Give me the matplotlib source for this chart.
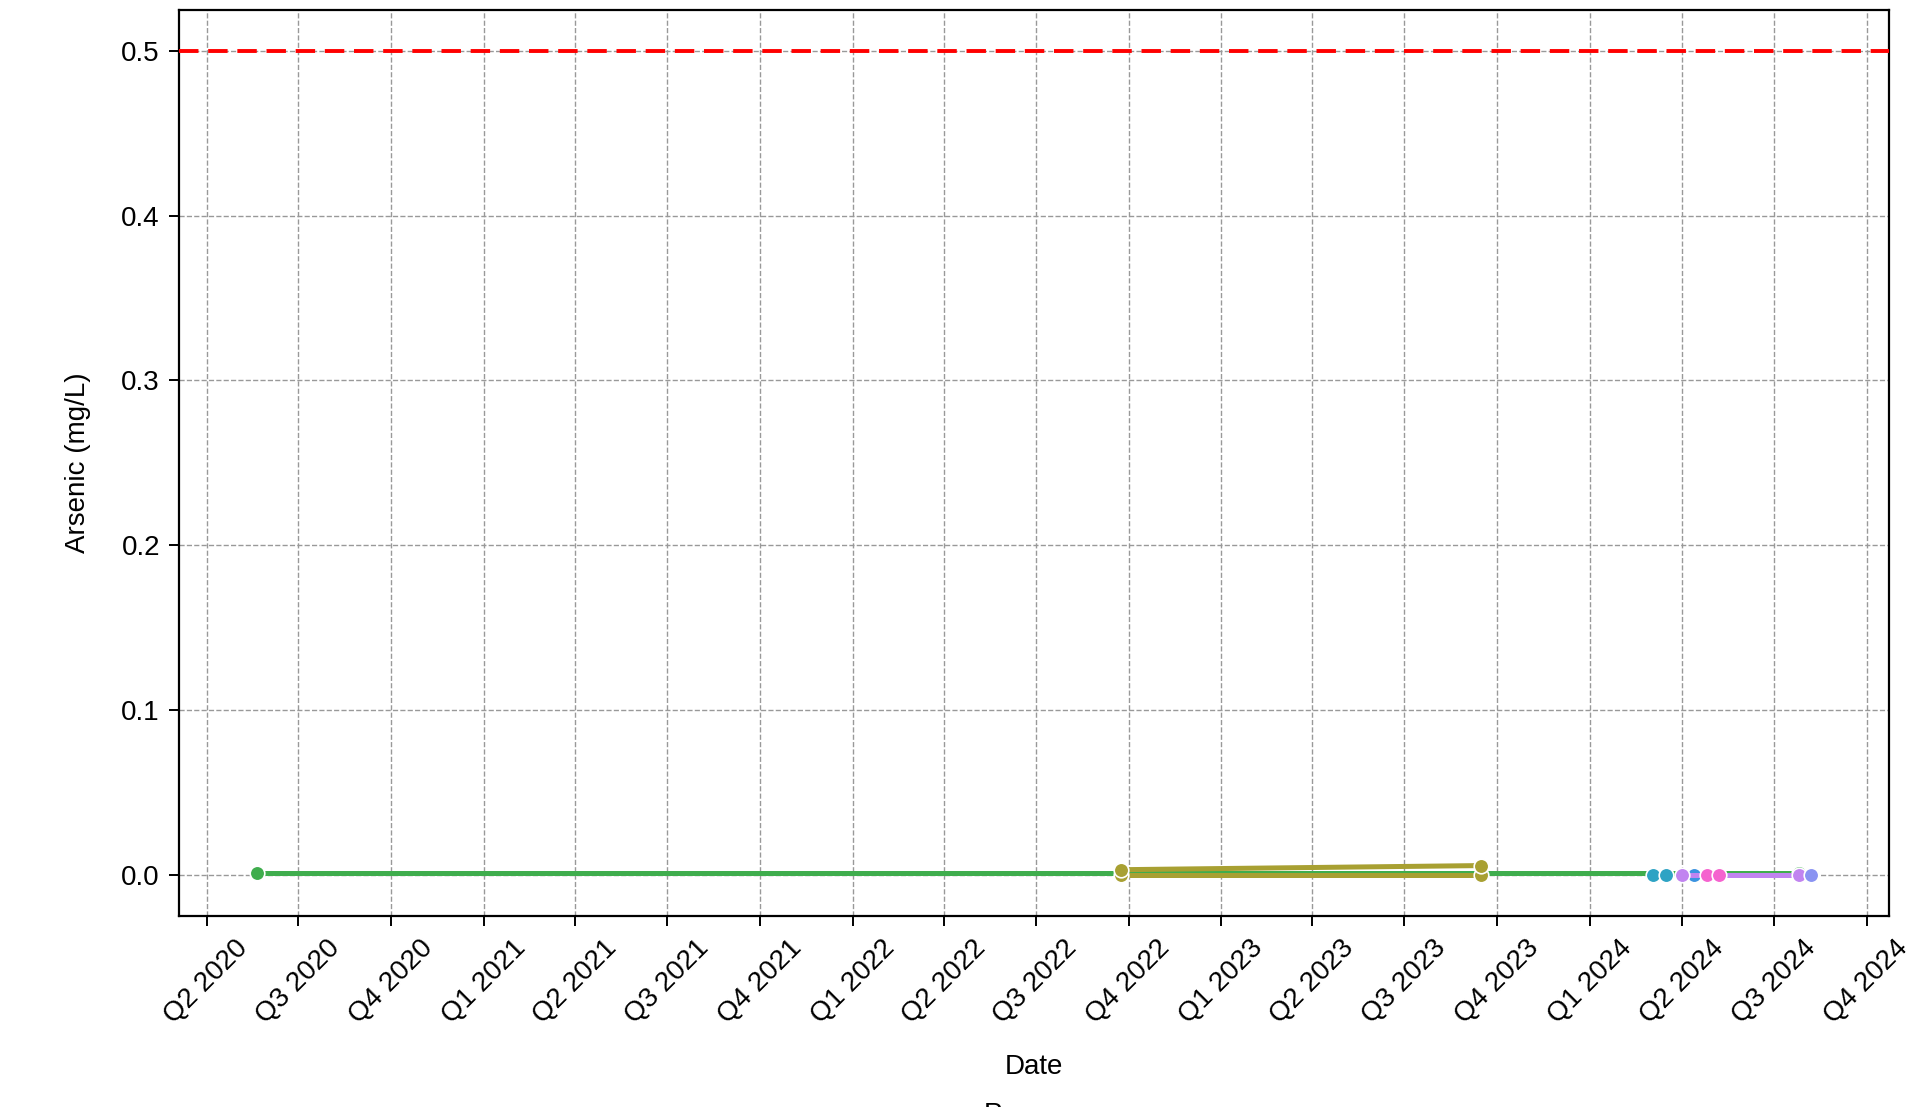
import pandas as pd
import matplotlib
matplotlib.use('Agg')
import matplotlib.pyplot as plt
import matplotlib.dates as mdates
from matplotlib.ticker import FuncFormatter

plt.rcParams['font.family'] = ['Liberation Sans', 'DejaVu Sans']
plt.rcParams['font.size'] = 20

# Arsenic results per process
groups = ['Raw Water', 'Filter A (upper)', 'Filter A (lower)', 'Clearwell',
          'Well 3', 'Well 4', 'Treated', 'Storage']
colors = ['#3fad4d', '#a8a032', '#a8a032', '#2ea3c4', '#3b93e0', '#c184f0', '#f563cf', '#8a93f2']

dates = {
    'Raw Water':        ['2020-05-21', '2024-07-26'],
    'Filter A (upper)': ['2022-09-24', '2023-09-15'],
    'Filter A (lower)': ['2022-09-24', '2023-09-15'],
    'Clearwell':        ['2024-03-03', '2024-03-16'],
    'Well 3':           ['2024-04-13'],
    'Well 4':           ['2024-04-01', '2024-07-26'],
    'Treated':          ['2024-04-26', '2024-05-08'],
    'Storage':          ['2024-08-07'],
}
values = {
    'Raw Water':        [0.0008, 0.0008],
    'Filter A (upper)': [0.003, 0.0055],
    'Filter A (lower)': [0.0, 0.0],
    'Clearwell':        [0.0, 0.0],
    'Well 3':           [0.0],
    'Well 4':           [0.0, 0.0],
    'Treated':          [0.0, 0.0],
    'Storage':          [0.0],
}
draw_order = ['Raw Water', 'Filter A (lower)', 'Filter A (upper)', 'Clearwell',
              'Well 3', 'Well 4', 'Treated', 'Storage']
mcl = 0.5

fig = plt.figure(figsize=(19.12, 11.07), dpi=100)
ax = fig.add_axes([0.0938, 0.1727, 0.8941, 0.8185])

for g in draw_order:
    c = colors[groups.index(g)]
    ax.plot(pd.to_datetime(dates[g]), values[g], color=c, linewidth=3.6,
            marker='o', markersize=10.5, markeredgecolor='white', markeredgewidth=1.2,
            label=g, zorder=3)

ax.axhline(mcl, color='red', linestyle='--', linewidth=2.8, dashes=(5, 2.5), zorder=4)

ax.xaxis.set_major_locator(mdates.MonthLocator(bymonth=[1, 4, 7, 10]))
ax.xaxis.set_major_formatter(FuncFormatter(
    lambda x, pos: f"Q{(mdates.num2date(x).month - 1) // 3 + 1} {mdates.num2date(x).year}"))
plt.setp(ax.get_xticklabels(), rotation=45)

ax.set_yticks([0.0, 0.1, 0.2, 0.3, 0.4, 0.5])
ax.set_ylim(-0.025, 0.525)
ax.grid(True, linestyle='--', color='#999999', linewidth=1.0)
ax.tick_params(length=7, width=1.4, pad=7)
for s in ax.spines.values():
    s.set_linewidth(1.6)

ax.set_xlabel('Date', labelpad=18)
ax.set_ylabel('Arsenic (mg/L)', labelpad=22)

# legend sits below the figure edge; only the top of its title shows
fig.legend(title='Process', loc='upper center', bbox_to_anchor=(0.5408, 0.027),
           frameon=False, ncol=4, title_fontsize=20)

fig.savefig('out.png', dpi=100)
